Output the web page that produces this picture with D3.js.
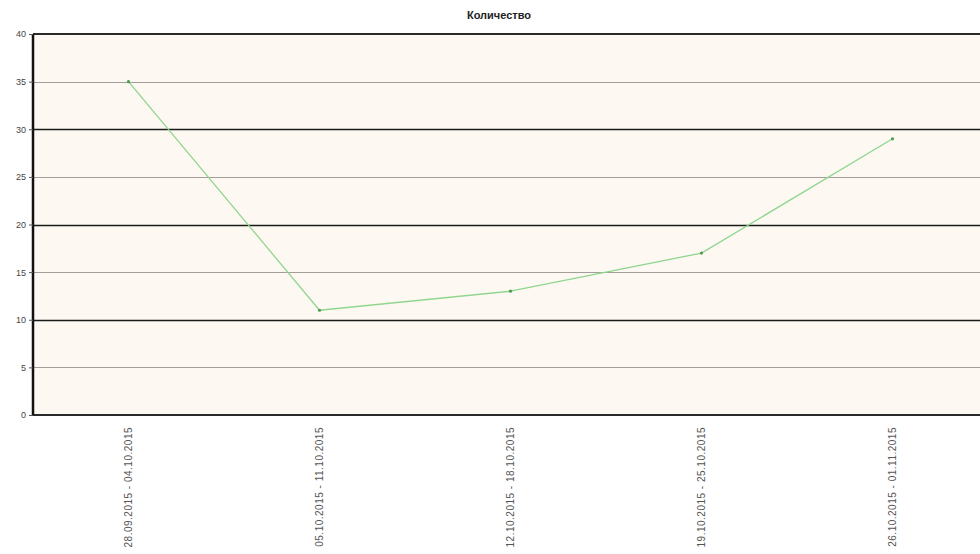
<!DOCTYPE html>
<html>
<head>
<meta charset="utf-8">
<script src="https://cdn.jsdelivr.net/npm/d3@7"></script>
<style>
  body { margin: 0; background: #fff; }
  svg { display: block; font-family: "Liberation Sans", Arial, sans-serif; }
</style>
</head>
<body>
<div class="chart"></div>
<script>
var W = 980, H = 554;
var margin = {left: 33, top: 34};
var plotW = 955, plotH = 381; // plot runs past the right edge

var weeks = ["28.09.2015 - 04.10.2015", "05.10.2015 - 11.10.2015", "12.10.2015 - 18.10.2015",
             "19.10.2015 - 25.10.2015", "26.10.2015 - 01.11.2015"];
var counts = [35, 11, 13, 17, 29];
var yTicks = [0, 5, 10, 15, 20, 25, 30, 35, 40];
var title = "Количество";

var svg = d3.select(".chart").append("svg")
  .attr("width", W).attr("height", H);

var g = svg.append("g").attr("transform", `translate(${margin.left},${margin.top})`);

var x = d3.scaleBand().domain(weeks).range([0, plotW]);
var y = d3.scaleLinear().domain([0, 40]).range([plotH, 0]);

// background
g.append("rect").attr("width", plotW).attr("height", plotH).attr("fill", "#fdf8f1");

// gridlines: tens dark, fives grey
g.selectAll(".grid").data(yTicks.filter(d => d > 0 && d < 40)).enter()
  .append("line")
  .attr("x1", 0).attr("x2", plotW)
  .attr("y1", d => Math.round(y(d)) + 0.5).attr("y2", d => Math.round(y(d)) + 0.5)
  .attr("stroke", d => d % 10 === 0 ? "#1a1a1a" : "#a39e99")
  .attr("stroke-width", d => d % 10 === 0 ? 1.3 : 1);

// top and bottom borders
[40, 0].forEach(function(v) {
  g.append("line").attr("x1", 0).attr("x2", plotW)
    .attr("y1", y(v)).attr("y2", y(v))
    .attr("stroke", "#2a2a2a").attr("stroke-width", 2);
});

// y axis
var yAxis = d3.axisLeft(y).tickValues(yTicks).tickSize(4).tickPadding(3);
g.append("g").call(yAxis)
  .call(a => {
    a.select(".domain").attr("stroke", "#111").attr("stroke-width", 2.5).attr("d", `M0,0V${plotH}`);
    a.selectAll("line").attr("stroke", "#555");
    a.selectAll("text").attr("fill", "#444").style("font-size", "9px");
  });

// x labels rotated
g.append("g").attr("transform", `translate(0,${plotH})`)
  .selectAll("text").data(weeks).enter()
  .append("text")
  .attr("transform", d => `translate(${x(d) + x.bandwidth() / 2 + 3.5},12) rotate(-90)`)
  .attr("text-anchor", "end")
  .attr("fill", "#555")
  .style("font-size", "10px")
  .style("letter-spacing", "0.5px")
  .text(d => d);

// line
var line = d3.line()
  .x((d, i) => x(weeks[i]) + x.bandwidth() / 2)
  .y(d => y(d));

g.append("path").datum(counts)
  .attr("fill", "none")
  .attr("stroke", "#8fd68f")
  .attr("stroke-width", 1.3)
  .attr("d", line);

g.selectAll(".pt").data(counts).enter()
  .append("circle")
  .attr("cx", (d, i) => x(weeks[i]) + x.bandwidth() / 2)
  .attr("cy", d => y(d))
  .attr("r", 1.6)
  .attr("fill", "#4f9a4f");

// title
svg.append("text")
  .attr("x", 499).attr("y", 19)
  .attr("text-anchor", "middle")
  .attr("fill", "#222")
  .style("font-size", "11px")
  .style("font-weight", "bold")
  .text(title);
</script>
</body>
</html>
